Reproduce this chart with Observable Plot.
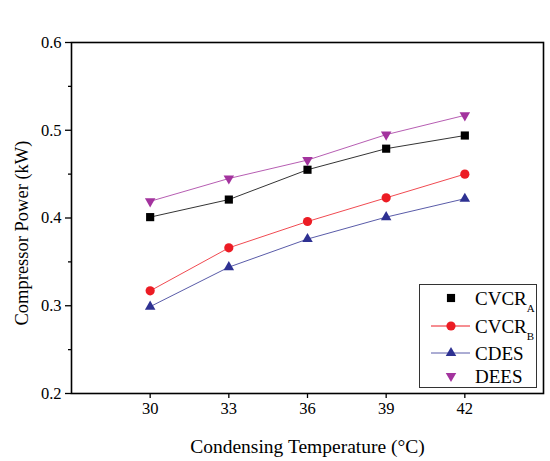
<!DOCTYPE html>
<html><head><meta charset="utf-8">
<script src="https://cdn.jsdelivr.net/npm/d3@7"></script>
<script src="https://cdn.jsdelivr.net/npm/@observablehq/plot@0.6"></script>
<style>
body{margin:0;background:#fff;}
#wrap{position:relative;width:550px;height:461px;}
#legend{position:absolute;left:0;top:0;}
</style>
</head><body><div id="wrap"></div>
<script>
const temps = [30, 33, 36, 39, 42];
const cvcrA = [0.401, 0.421, 0.455, 0.479, 0.494];
const cvcrB = [0.317, 0.366, 0.396, 0.423, 0.450];
const cdes  = [0.299, 0.344, 0.376, 0.401, 0.422];
const dees  = [0.419, 0.445, 0.466, 0.495, 0.517];
const seriesNames = ["CVCR_A", "CVCR_B", "CDES", "DEES"];
const seriesMain = ["CVCR", "CVCR", "CDES", "DEES"];
const seriesSub = ["A", "B", "", ""];
const colors = ["#000000", "#ec1c24", "#2e3192", "#a3339e"];
const yTicks = [0.2, 0.3, 0.4, 0.5, 0.6];
const yMinor = [0.25, 0.35, 0.45, 0.55];
const xTicks = [30, 33, 36, 39, 42];
const xLabel = "Condensing Temperature (°C)";
const yLabel = "Compressor Power (kW)";

const valuesBySeries = [cvcrA, cvcrB, cdes, dees];
const rows = seriesNames.flatMap((s, i) => temps.map((t, j) => ({series: s, temp: t, power: valuesBySeries[i][j]})));

const triDown = {
  draw(ctx, size) {
    const y = -Math.sqrt(size / (Math.sqrt(3) * 3));
    ctx.moveTo(0, -y * 2);
    ctx.lineTo(-Math.sqrt(3) * y, y);
    ctx.lineTo(Math.sqrt(3) * y, y);
    ctx.closePath();
  }
};
const symbols = [d3.symbolSquare, d3.symbolCircle, d3.symbolTriangle, triDown];
const radii = [4.6, 4.6, 3.9, 3.9];
const showLegendLine = [false, true, true, false];

const font = "'Liberation Serif', 'Times New Roman', serif";

const dotMarks = seriesNames.map((s, i) => Plot.dot(rows.filter(d => d.series === s), {
  x: "temp", y: "power", fill: "series", stroke: "none", symbol: () => symbols[i], r: radii[i]
}));

const chart = Plot.plot({
  width: 550,
  height: 461,
  marginLeft: 71,
  marginRight: 7,
  marginTop: 42,
  marginBottom: 68,
  style: {fontFamily: font, fontSize: "16px", color: "#000", background: "#fff"},
  x: {domain: [27, 45]},
  y: {domain: [0.2, 0.6]},
  color: {domain: seriesNames, range: colors},
  symbol: {type: "identity"},
  marks: [
    Plot.axisY({ticks: yMinor, tickSize: 3, tickFormat: () => "", label: null, strokeWidth: 1.3}),
    Plot.axisY({ticks: yTicks, tickSize: 6, tickPadding: 4, tickFormat: d3.format(".1f"), label: null, strokeWidth: 1.3, fontSize: 16.5, fontFamily: font, fontVariant: "normal"}),
    Plot.axisX({ticks: xTicks, tickSize: 5, tickPadding: 4, label: null, strokeWidth: 1.3, fontSize: 16.5, fontFamily: font, fontVariant: "normal"}),
    Plot.line(rows, {x: "temp", y: "power", z: "series", stroke: "series", strokeWidth: 0.8}),
    ...dotMarks,
    Plot.frame({stroke: "#000", strokeWidth: 1.6}),
    Plot.text([xLabel], {frameAnchor: "bottom", textAnchor: "middle", dy: 53, lineAnchor: "middle", fontSize: 19.5, fontFamily: font, text: d => d}),
    Plot.text([yLabel], {frameAnchor: "left", textAnchor: "middle", dx: -49, dy: 15, rotate: -90, lineAnchor: "middle", fontSize: 18.5, fontFamily: font, text: d => d})
  ]
});
document.getElementById("wrap").appendChild(chart);

// Legend overlay
const leg = d3.select("#wrap").append("svg").attr("id", "legend").attr("width", 550).attr("height", 461)
  .style("font-family", font);
leg.append("rect").attr("x", 419.5).attr("y", 284.5).attr("width", 117).attr("height", 103)
  .attr("fill", "#fff").attr("stroke", "#333").attr("stroke-width", 1);
const rowY = [298, 326, 353, 376];
seriesNames.forEach((s, i) => {
  const g = leg.append("g").attr("transform", `translate(0,${rowY[i]})`);
  if (showLegendLine[i]) {
    g.append("line").attr("x1", 431).attr("x2", 470).attr("y1", 0).attr("y2", 0)
      .attr("stroke", colors[i]).attr("stroke-width", i === 2 ? 0.8 : 1);
  }
  g.append("path").attr("transform", "translate(451,0)")
    .attr("d", d3.symbol(symbols[i], Math.PI * radii[i] * radii[i])())
    .attr("fill", colors[i]);
  const t = g.append("text").attr("x", 475).attr("y", 0).attr("dy", "0.35em").attr("font-size", 19).attr("fill", "#000");
  t.append("tspan").text(seriesMain[i]);
  if (seriesSub[i]) t.append("tspan").attr("font-size", 11).attr("dy", 7).text(seriesSub[i]);
});
</script>
</body></html>
